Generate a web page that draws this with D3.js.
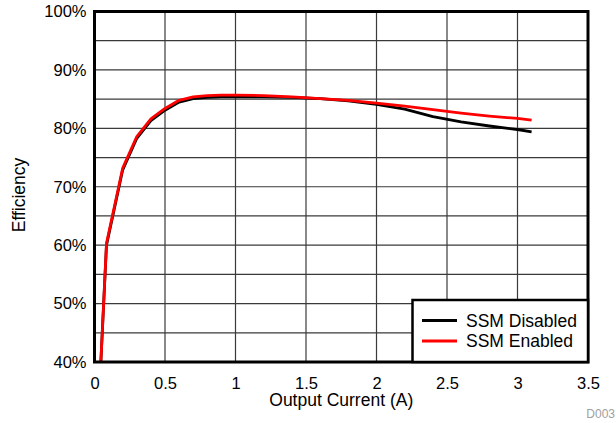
<!DOCTYPE html>
<html>
<head>
<meta charset="utf-8">
<script src="https://cdn.jsdelivr.net/npm/d3@7"></script>
<style>
  body { margin: 0; background: #fff; }
  text { font-family: "Liberation Sans", Arial, sans-serif; fill: #000; }
</style>
</head>
<body>
<svg id="chart" width="616" height="423"></svg>
<script>
// efficiency vs output current, SSM off / on
const current  = [0.045, 0.085, 0.2, 0.3, 0.4, 0.5, 0.6, 0.7, 0.8, 0.9, 1.0, 1.2, 1.4, 1.6, 1.8, 2.0, 2.2, 2.4, 2.6, 2.8, 3.0, 3.1];
const disabled = [40, 60, 72.9, 78.3, 81.3, 83.1, 84.5, 85.1, 85.3, 85.4, 85.4, 85.4, 85.3, 85.1, 84.7, 84.1, 83.3, 82.0, 81.1, 80.4, 79.8, 79.4];
const enabled  = [40, 60.3, 73.2, 78.6, 81.6, 83.4, 84.8, 85.4, 85.6, 85.7, 85.7, 85.6, 85.4, 85.1, 84.8, 84.3, 83.8, 83.2, 82.6, 82.1, 81.7, 81.4];

const xTicks = [0, 0.5, 1, 1.5, 2, 2.5, 3, 3.5];
const yTicks = [40, 50, 60, 70, 80, 90, 100];
const yGrid  = [45, 50, 55, 60, 65, 70, 75, 80, 85, 90, 95];

const seriesNames  = ["SSM Disabled", "SSM Enabled"];
const seriesColors = ["#000000", "#ff0000"];

const svg = d3.select("#chart");
const plotL = 94.5, plotR = 588, plotT = 11.5, plotB = 362;

const x = d3.scaleLinear().domain([0, 3.5]).range([plotL, plotR]);
const y = d3.scaleLinear().domain([40, 100]).range([plotB, plotT]);

// grid
svg.append("g")
    .selectAll("line")
    .data(xTicks.slice(1, -1))
    .join("line")
    .attr("x1", d => x(d)).attr("x2", d => x(d))
    .attr("y1", plotT).attr("y2", plotB)
    .attr("stroke", "#3a3a3a")
    .attr("stroke-width", 1.2);

svg.append("g")
    .selectAll("line")
    .data(yGrid)
    .join("line")
    .attr("x1", plotL).attr("x2", plotR)
    .attr("y1", d => y(d)).attr("y2", d => y(d))
    .attr("stroke", "#3a3a3a")
    .attr("stroke-width", 1.2);

// axes tick labels
const yAxis = d3.axisLeft(y).tickValues(yTicks).tickSize(0).tickPadding(8)
    .tickFormat(d => d + "%");
svg.append("g")
    .attr("transform", `translate(${plotL},0)`)
    .call(yAxis)
    .call(g => g.select(".domain").remove())
    .selectAll("text")
    .style("font-size", "16.5px")
    .style("font-family", "Liberation Sans, Arial, sans-serif")
    .attr("fill", "#000");

const xAxis = d3.axisBottom(x).tickValues(xTicks).tickSize(0).tickPadding(15)
    .tickFormat(d => d);
svg.append("g")
    .attr("transform", `translate(0,${plotB})`)
    .call(xAxis)
    .call(g => g.select(".domain").remove())
    .selectAll("text")
    .style("font-size", "16.5px")
    .style("font-family", "Liberation Sans, Arial, sans-serif")
    .attr("fill", "#000");

// curves
const line = d3.line().x(d => x(d[0])).y(d => y(d[1]));
[disabled, enabled].forEach((vals, i) => {
  svg.append("path")
      .datum(current.map((c, j) => [c, vals[j]]))
      .attr("d", line)
      .attr("fill", "none")
      .attr("stroke", seriesColors[i])
      .attr("stroke-width", 2.8)
      .attr("stroke-linejoin", "round");
});

// frame
svg.append("rect")
    .attr("x", plotL).attr("y", plotT)
    .attr("width", plotR - plotL).attr("height", plotB - plotT)
    .attr("fill", "none")
    .attr("stroke", "#000")
    .attr("stroke-width", 3);

// legend
const lg = svg.append("g");
lg.append("rect")
    .attr("x", 412.5).attr("y", 300)
    .attr("width", plotR - 412.5).attr("height", plotB - 300)
    .attr("fill", "#fff")
    .attr("stroke", "#000")
    .attr("stroke-width", 2.5);

seriesNames.forEach((name, i) => {
  const ly = 320.5 + i * 20.5;
  lg.append("line")
      .attr("x1", 422).attr("x2", 457)
      .attr("y1", ly).attr("y2", ly)
      .attr("stroke", seriesColors[i])
      .attr("stroke-width", 2.8);
  lg.append("text")
      .attr("x", 466)
      .attr("y", ly + 6)
      .style("font-size", "17.5px")
      .text(name);
});

// axis titles
svg.append("text")
    .attr("x", (plotL + plotR) / 2)
    .attr("y", 406)
    .attr("text-anchor", "middle")
    .style("font-size", "17.5px")
    .text("Output Current (A)");

svg.append("text")
    .attr("transform", "translate(25,195) rotate(-90)")
    .attr("text-anchor", "middle")
    .style("font-size", "17.5px")
    .text("Efficiency");

svg.append("text")
    .attr("x", 615)
    .attr("y", 418)
    .attr("text-anchor", "end")
    .style("font-size", "12px")
    .style("fill", "#a0a0a0")
    .text("D003");
</script>
</body>
</html>
